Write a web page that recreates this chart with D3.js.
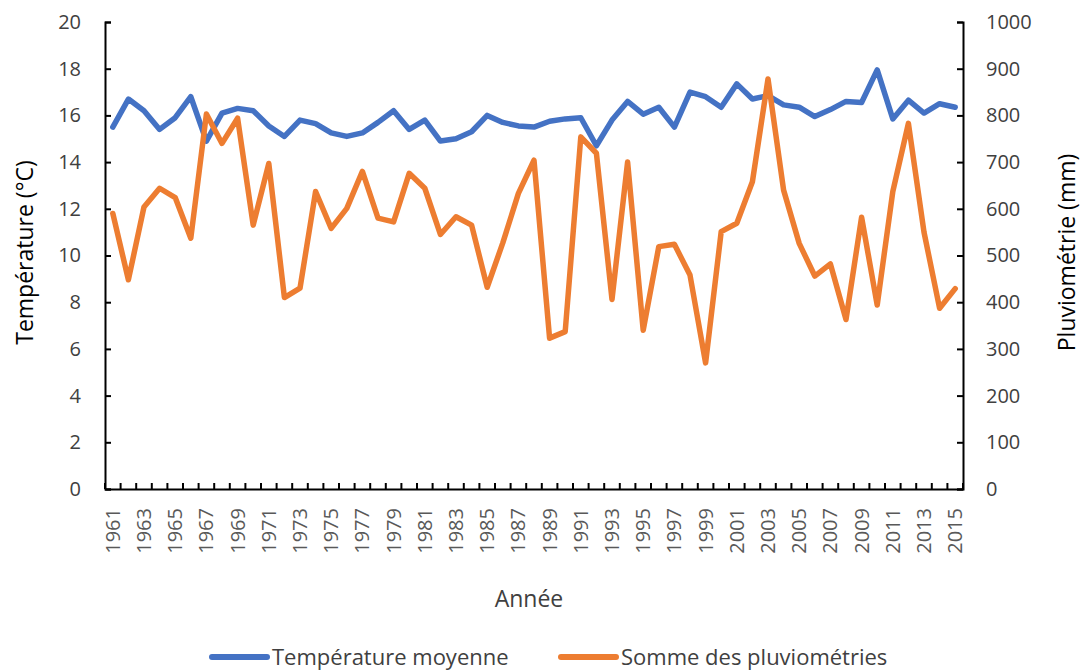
<!DOCTYPE html>
<html>
  <head>
    <meta charset="utf-8">
    <title>Température moyenne et pluviométrie</title>
    <style>
      body { margin: 0; background: #fff; }
      svg text { font-family: "Open Sans", "Noto Sans", sans-serif; fill: #404040; }
      .axis path.domain { stroke: #000; stroke-width: 2px; }
      .axis line { stroke: #000; stroke-width: 2px; }
    </style>
  </head>
  <body>
    <svg id="chart" width="1083" height="670"></svg>

    <script src="https://cdnjs.cloudflare.com/ajax/libs/d3/7.8.5/d3.min.js"></script>
    <script>
      // chart data
      var years = d3.range(1961, 2016);
      var temperature = [
        15.5, 16.7, 16.2, 15.4, 15.9, 16.8, 14.9, 16.1, 16.3, 16.2,
        15.55, 15.1, 15.8, 15.65, 15.25, 15.1, 15.25, 15.7, 16.2, 15.4,
        15.8, 14.9, 15.0, 15.3, 16.0, 15.7, 15.55, 15.5, 15.75, 15.85,
        15.9, 14.7, 15.8, 16.6, 16.05, 16.35, 15.5, 17.0, 16.8, 16.35,
        17.35, 16.7, 16.85, 16.45, 16.35, 15.95, 16.25, 16.6, 16.55, 17.95,
        15.85, 16.65, 16.1, 16.5, 16.35
      ];
      var rainfall = [
        590, 448, 604, 644, 624, 537, 803, 740, 794, 565,
        697, 410, 430, 637, 558, 601, 680, 580, 572, 676,
        644, 545, 583, 565, 432, 527, 633, 704, 323, 337,
        754, 719, 406, 700, 340, 519, 524, 458, 270, 551,
        569, 658, 878, 640, 526, 456, 482, 363, 582, 394,
        637, 783, 550, 387, 429
      ];
      var tempTicks = d3.range(0, 21, 2);
      var rainTicks = d3.range(0, 1001, 100);
      var seriesNames = ["Température moyenne", "Somme des pluviométries"];
      var seriesColors = ["#4472C4", "#ED7D31"];

      var svg = d3.select("#chart"),
          margin = {top: 22, right: 120, bottom: 181, left: 105},
          width = +svg.attr("width") - margin.left - margin.right,
          height = +svg.attr("height") - margin.top - margin.bottom,
          g = svg.append("g").attr("transform", "translate(" + margin.left + "," + margin.top + ")");

      var x = d3.scaleBand().domain(years).range([0, width]).padding(0);
      var yT = d3.scaleLinear().domain([0, 20]).range([height, 0]);
      var yP = d3.scaleLinear().domain([0, 1000]).range([height, 0]);

      // Left axis (inside ticks)
      var left = g.append("g").attr("class", "axis")
        .call(d3.axisLeft(yT).tickValues(tempTicks).tickSize(-6).tickSizeOuter(-6).tickPadding(24));
      left.selectAll("text").style("font-size", "20px").style("fill", "#404040");

      // Right axis
      var right = g.append("g").attr("class", "axis")
        .attr("transform", "translate(" + width + ",0)")
        .call(d3.axisRight(yP).tickValues(rainTicks).tickFormat(d3.format("d"))
          .tickSize(-6).tickSizeOuter(-6).tickPadding(23));
      right.selectAll("text").style("font-size", "20px").style("fill", "#404040");

      // Bottom axis: labels every other year, ticks on category boundaries
      var bottom = g.append("g").attr("class", "axis")
        .attr("transform", "translate(0," + height + ")")
        .call(d3.axisBottom(x).tickValues(years.filter(function(d, i) { return i % 2 === 0; }))
          .tickSize(0).tickSizeOuter(0).tickPadding(0));
      bottom.selectAll("text")
        .attr("transform", "rotate(-90)")
        .attr("text-anchor", "end")
        .attr("x", -19)
        .attr("y", 0)
        .attr("dy", "0.35em")
        .style("font-size", "20px")
        .style("fill", "#595959");

      g.append("g").selectAll("line")
        .data(years.concat([null]))
        .enter().append("line")
        .attr("x1", function(d) { return d === null ? width : x(d); })
        .attr("x2", function(d) { return d === null ? width : x(d); })
        .attr("y1", height)
        .attr("y2", height - 6)
        .attr("stroke", "#000")
        .attr("stroke-width", 2);

      // Lines
      var cx = function(i) { return x(years[i]) + x.bandwidth() / 2; };

      g.append("path")
        .datum(temperature)
        .attr("fill", "none")
        .attr("stroke", seriesColors[0])
        .attr("stroke-width", 5.5)
        .attr("stroke-linejoin", "round")
        .attr("stroke-linecap", "round")
        .attr("d", d3.line().x(function(d, i) { return cx(i); }).y(function(d) { return yT(d); }));

      g.append("path")
        .datum(rainfall)
        .attr("fill", "none")
        .attr("stroke", seriesColors[1])
        .attr("stroke-width", 5.5)
        .attr("stroke-linejoin", "round")
        .attr("stroke-linecap", "round")
        .attr("d", d3.line().x(function(d, i) { return cx(i); }).y(function(d) { return yP(d); }));

      // Axis titles
      g.append("text")
        .attr("transform", "translate(" + (-80) + "," + (height / 2 - 3) + ") rotate(-90)")
        .attr("text-anchor", "middle")
        .attr("dy", "0.35em")
        .style("font-size", "23px")
        .style("fill", "#000")
        .text("Température (°C)");

      g.append("text")
        .attr("transform", "translate(" + (width + 104) + "," + (height / 2 - 3) + ") rotate(-90)")
        .attr("text-anchor", "middle")
        .attr("dy", "0.35em")
        .style("font-size", "23px")
        .style("fill", "#000")
        .text("Pluviométrie (mm)");

      g.append("text")
        .attr("x", width / 2 - 5)
        .attr("y", height + 118)
        .attr("text-anchor", "middle")
        .style("font-size", "23px")
        .style("fill", "#404040")
        .text("Année");

      // Legend
      var legendX = [212, 561];
      var legend = svg.append("g").selectAll("g")
        .data(seriesNames)
        .enter().append("g")
        .attr("transform", function(d, i) { return "translate(" + legendX[i] + ",657)"; });

      legend.append("line")
        .attr("x1", 0).attr("x2", 55)
        .attr("stroke", function(d, i) { return seriesColors[i]; })
        .attr("stroke-width", 6)
        .attr("stroke-linecap", "round");

      legend.append("text")
        .attr("x", 60)
        .attr("dy", "0.35em")
        .style("font-size", "22px")
        .text(function(d) { return d; });
    </script>
  </body>
</html>
